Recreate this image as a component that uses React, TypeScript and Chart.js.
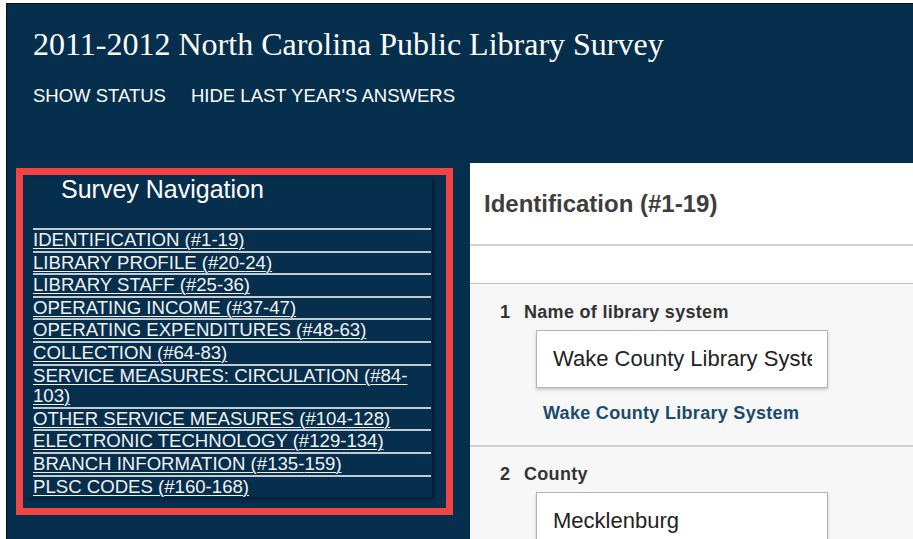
import React, { useEffect, useRef } from "react";
import { Chart, registerables } from "chart.js";

Chart.register(...registerables);

const surveyTitle = "2011-2012 North Carolina Public Library Survey";
const headerLinks = ["SHOW STATUS", "HIDE LAST YEAR'S ANSWERS"];
const headerLinkX = [33, 191];
const navTitle = "Survey Navigation";
const navItems = [
  "IDENTIFICATION (#1-19)",
  "LIBRARY PROFILE (#20-24)",
  "LIBRARY STAFF (#25-36)",
  "OPERATING INCOME (#37-47)",
  "OPERATING EXPENDITURES (#48-63)",
  "COLLECTION (#64-83)",
  "SERVICE MEASURES: CIRCULATION (#84-103)",
  "OTHER SERVICE MEASURES (#104-128)",
  "ELECTRONIC TECHNOLOGY (#129-134)",
  "BRANCH INFORMATION (#135-159)",
  "PLSC CODES (#160-168)",
];
const sectionTitle = "Identification (#1-19)";
const questionNumbers = ["1", "2"];
const questionLabels = ["Name of library system", "County"];
const answerValues = ["Wake County Library System", "Mecklenburg"];
const previousAnswers = ["Wake County Library System", ""];

const BG = "#062f4e";
const SANS = "'Liberation Sans', Arial, sans-serif";
const SERIF = "'Liberation Serif', 'Times New Roman', serif";

function withHyphenBreaks(t: string) {
  const parts = t.split("-");
  return parts.map((p, i) => (
    <React.Fragment key={i}>
      {p}
      {i < parts.length - 1 ? (
        <>
          -<wbr />
        </>
      ) : null}
    </React.Fragment>
  ));
}

export default function App() {
  const canvasRef = useRef<HTMLCanvasElement | null>(null);

  useEffect(() => {
    const el = canvasRef.current;
    if (!el) return;
    const chart = new Chart(el, {
      type: "bar",
      data: { labels: [], datasets: [] },
      options: {
        animation: false,
        responsive: false,
        events: [],
        plugins: { legend: { display: false }, tooltip: { enabled: false } },
        scales: { x: { display: false }, y: { display: false } },
      },
    });
    return () => chart.destroy();
  }, []);

  const abs = (s: React.CSSProperties): React.CSSProperties => ({ position: "absolute", ...s });

  return (
    <div style={abs({ position: "fixed", left: 0, top: 0, width: 913, height: 539, background: "#fff", overflow: "hidden", fontFamily: SANS })}>
      {/* dark page background */}
      <div style={abs({ left: 6, top: 3, right: 0, bottom: 0, background: BG, borderLeft: "1px solid #0a0f14", borderTop: "1px solid #0a0f14" })} />
      <canvas ref={canvasRef} width={10} height={10} style={abs({ left: 0, top: 0, width: 10, height: 10, pointerEvents: "none", opacity: 0 })} />

      {/* title */}
      <div style={abs({ left: 33, top: 28.2, fontFamily: SERIF, fontSize: 32, lineHeight: "32px", color: "#fff", whiteSpace: "nowrap" })}>{surveyTitle}</div>
      {headerLinks.map((t, i) => (
        <div key={t} style={abs({ left: headerLinkX[i], top: 87, fontSize: 18.5, lineHeight: "18.5px", color: "#fff", whiteSpace: "nowrap" })}>{t}</div>
      ))}

      {/* navigation panel */}
      <div style={abs({ left: 25, top: 178, width: 407, height: 319, background: BG, boxShadow: "2px 2px 3px rgba(0,0,0,0.45)" })} />
      <div style={abs({ left: 61, top: 176.5, fontSize: 25, lineHeight: "25px", color: "#fff", whiteSpace: "nowrap" })}>{navTitle}</div>
      <div style={abs({ left: 33, top: 228, width: 398 })}>
        {navItems.map((t) => (
          <div key={t} style={{ borderTop: "2px solid #c3cbd2", fontSize: 18.6, lineHeight: "20.6px", color: "#f2f2f2", textDecoration: "underline", textDecorationThickness: "1px", textUnderlineOffset: "1.5px" }}>{withHyphenBreaks(t)}</div>
        ))}
      </div>
      <div style={abs({ left: 16, top: 168, width: 437, height: 347, boxSizing: "border-box", border: "7px solid #f24444" })} />

      {/* content panel */}
      <div style={abs({ left: 470, top: 163, right: 0, bottom: 0, background: "#fff" })} />
      <div style={abs({ left: 484, top: 191.5, fontSize: 24, lineHeight: "24px", fontWeight: 700, color: "#3d3d3d", whiteSpace: "nowrap" })}>{sectionTitle}</div>
      <div style={abs({ left: 470, top: 244, right: 0, height: 2, background: "#d2d2d2" })} />
      <div style={abs({ left: 470, top: 283, right: 0, bottom: 0, background: "#f7f7f7", borderTop: "1px solid #c2c2c2" })} />
      <div style={abs({ left: 470, top: 445, right: 0, height: 2, background: "#cfcfcf" })} />

      {questionNumbers.map((n, i) => {
        const y0 = i === 0 ? 0 : 162;
        return (
          <React.Fragment key={n}>
            <div style={abs({ left: 500, top: 303 + y0, fontSize: 18, lineHeight: "18px", fontWeight: 700, color: "#333", whiteSpace: "nowrap" })}>{n}</div>
            <div style={abs({ left: 524, top: 303 + y0, fontSize: 18, lineHeight: "18px", fontWeight: 700, color: "#333", whiteSpace: "nowrap", letterSpacing: "0.3px" })}>{questionLabels[i]}</div>
            <div style={abs({ left: 536, top: 330 + y0, width: 292, height: 58, boxSizing: "border-box", background: "#fff", border: "1px solid #b4b4b4", boxShadow: "0 2px 3px rgba(0,0,0,0.18)" })} />
            <div style={abs({ left: 553, top: 345.3 + y0, width: 259, height: 28, paddingTop: 3, boxSizing: "border-box", overflow: "hidden", fontSize: 22, lineHeight: "22px", color: "#222", whiteSpace: "nowrap" })}>{answerValues[i]}</div>
            {previousAnswers[i] ? (
              <div style={abs({ left: 543, top: 404 + y0, fontSize: 18, lineHeight: "18px", fontWeight: 700, color: "#1b4a6c", whiteSpace: "nowrap", letterSpacing: "0.3px" })}>{previousAnswers[i]}</div>
            ) : null}
          </React.Fragment>
        );
      })}
    </div>
  );
}
